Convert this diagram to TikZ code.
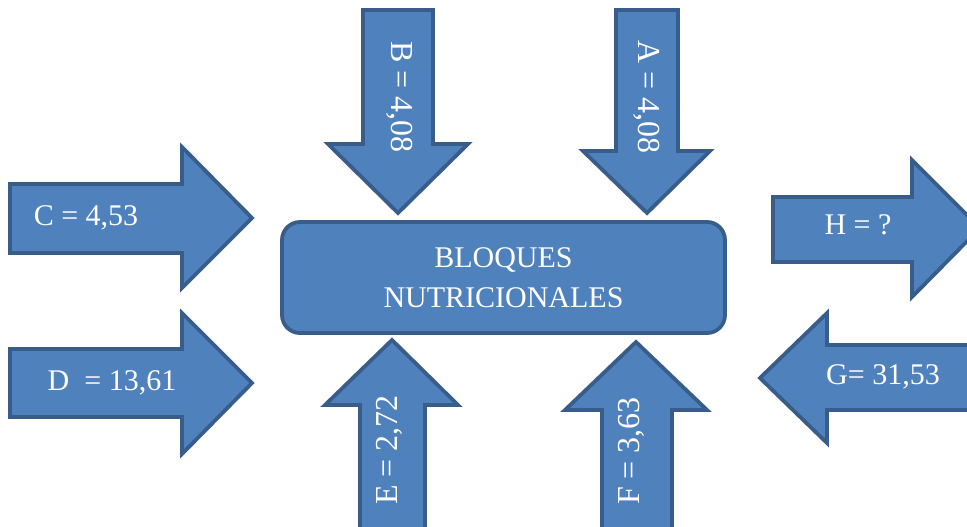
\documentclass[tikz,border=0pt]{standalone}
\usepackage{fontspec}
\setmainfont{Liberation Serif}
\usetikzlibrary{positioning}
\definecolor{fillblue}{HTML}{4F81BD}
\definecolor{edgeblue}{HTML}{385D8A}
\tikzset{%
	blockarrow/.style = {fill=fillblue, draw=edgeblue, line width=3.8pt}, % arrow shapes
	hub/.style        = {fill=fillblue, draw=edgeblue, line width=3.8pt, rectangle, rounded corners=18pt, align=center}, % centre block
	value/.style      = {text=white, font=\fontsize{30}{40}\selectfont, inner sep=0pt}, % arrow texts
	upright/.style    = {value, font=\fontsize{32}{40}\selectfont}, % rotated arrow texts
}

\begin{document}
\begin{tikzpicture}[x=1pt,y=-1pt]
	\useasboundingbox (0,0) rectangle (967,527);
	
	% incoming from the left
	\filldraw[blockarrow] (10,184) -- (182,184) -- (182,147) -- (252,218) -- (182,288) -- (182,253) -- (10,253) -- cycle;
	\filldraw[blockarrow] (10,349) -- (182,349) -- (182,313) -- (252,383) -- (182,454) -- (182,417) -- (10,417) -- cycle;
	% incoming from above
	\filldraw[blockarrow] (363,10) -- (433,10) -- (433,144) -- (468,144) -- (398,213) -- (328,144) -- (363,144) -- cycle;
	\filldraw[blockarrow] (616,10) -- (678,10) -- (678,151) -- (710,151) -- (647,213) -- (583,151) -- (616,151) -- cycle;
	% incoming from below
	\filldraw[blockarrow] (360,540) -- (360,405) -- (325,405) -- (392,340) -- (458,405) -- (425,405) -- (425,540) -- cycle;
	\filldraw[blockarrow] (602,540) -- (602,410) -- (565,410) -- (636,342) -- (707,410) -- (672,410) -- (672,540) -- cycle;
	% right side
	\filldraw[blockarrow] (773,197) -- (912,197) -- (912,160) -- (980,228) -- (912,297) -- (912,262) -- (773,262) -- cycle;
	\filldraw[blockarrow] (760,378) -- (827,313) -- (827,345) -- (990,345) -- (990,410) -- (827,410) -- (827,443) -- cycle;
	
	\node[hub, value, minimum width=443pt, minimum height=111pt] (bloques) at (503.5,277.5) {BLOQUES\\NUTRICIONALES};
	
	\node[value] (c) at (86,218) {C = 4,53};
	\node[value] (d) at (112,383) {D \ = 13,61};
	\node[upright, rotate=-90] (b) at (400,97) {B = 4,08};
	\node[upright, rotate=-90] (a) at (647,97) {A = 4,08};
	\node[upright, rotate=90] (e) at (389,450) {E = 2,72};
	\node[upright, rotate=90] (f) at (631,451) {F = 3,63};
	\node[value] (h) at (858,225) {H = ?};
	\node[value] (g) at (883,377) {G= 31,53};
\end{tikzpicture}
\end{document}
